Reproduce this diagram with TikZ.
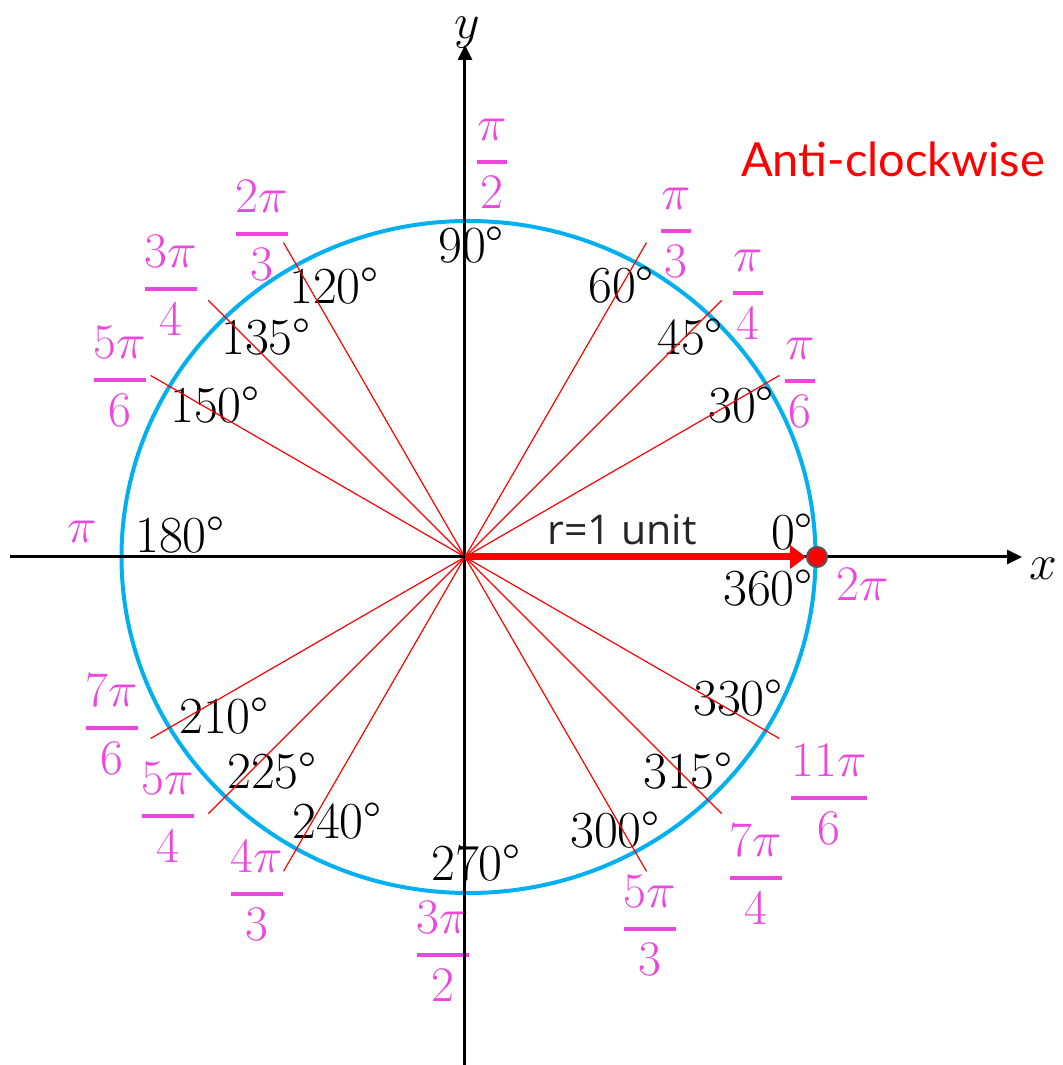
\documentclass[tikz,border=0pt]{standalone}
\usepackage{amsmath}
\usepackage{fontspec}
\usepackage{tikz}
\usetikzlibrary{arrows.meta}
\newfontfamily\unitfont{Open Sans}
\newfontfamily\dirfont{Lato}
\definecolor{CircleBlue}{RGB}{0,176,240}
\definecolor{RadMagenta}{RGB}{236,70,222}
\definecolor{DotBorder}{RGB}{80,85,95}
\newcommand{\rfrac}[2]{$\genfrac{}{}{2pt}{0}{#1}{#2}$}

\begin{document}
\begin{tikzpicture}[
  x=0.5pt, y=0.5pt,
  font=\fontsize{26}{31}\selectfont,
  axis/.style={line width=1.5pt, -{Triangle[length=7.5pt,width=7pt]}},
  ray/.style={red, line width=0.6pt},
  deg/.style={anchor=base, inner sep=0pt},
  rad/.style={anchor=base, inner sep=0pt, yshift=-6.5pt, text=RadMagenta},
  radius/.style={red, line width=3.5pt, -{Triangle[length=8pt,width=11.5pt]}}
]
\useasboundingbox (-465,-508) rectangle (598,557);

% unit circle (slightly squashed as in the drawing)
\draw[CircleBlue, line width=2pt] (3.5,0) ellipse [x radius=347, y radius=336];

% degree labels
\node[deg] (d0)   at (327,7)      {0°};
\node[deg] (d30)  at (276,134)    {30°};
\node[deg] (d45)  at (225,202)    {45°};
\node[deg] (d60)  at (156,254)    {60°};
\node[deg] (d90)  at (6,294)      {90°};
\node[deg] (d120) at (-131,253)   {120°};
\node[deg] (d135) at (-199,202)   {135°};
\node[deg] (d150) at (-250,134)   {150°};
\node[deg] (d180) at (-285,4)     {180°};
\node[deg] (d210) at (-241,-176)  {210°};
\node[deg] (d225) at (-193,-231)  {225°};
\node[deg] (d240) at (-128,-281)  {240°};
\node[deg] (d270) at (11,-323)    {270°};
\node[deg] (d300) at (150,-290)   {300°};
\node[deg] (d315) at (223,-231)   {315°};
\node[deg] (d330) at (273,-158)   {330°};
\node[deg] (d360) at (303,-48)    {360°};

% radian labels
\node[rad] (r30)  at (335,177)    {\rfrac{\pi}{6}};
\node[rad] (r45)  at (283,265)    {\rfrac{\pi}{4}};
\node[rad] (r60)  at (211,327)    {\rfrac{\pi}{3}};
\node[rad] (r90)  at (27,396)     {\rfrac{\pi}{2}};
\node[rad] (r120) at (-203,324)   {\rfrac{2\pi}{3}};
\node[rad] (r135) at (-294,269)   {\rfrac{3\pi}{4}};
\node[rad] (r150) at (-345,178)   {\rfrac{5\pi}{6}};
\node[deg, text=RadMagenta] (r180) at (-383,14) {$\pi$};
\node[rad] (r210) at (-353,-170)  {\rfrac{7\pi}{6}};
\node[rad] (r225) at (-297,-258)  {\rfrac{5\pi}{4}};
\node[rad] (r240) at (-208,-336)  {\rfrac{4\pi}{3}};
\node[rad] (r270) at (-22,-397)   {\rfrac{3\pi}{2}};
\node[rad] (r300) at (185,-371)   {\rfrac{5\pi}{3}};
\node[rad] (r315) at (291,-320)   {\rfrac{7\pi}{4}};
\node[rad] (r330) at (364,-240)   {\rfrac{11\pi}{6}};
\node[deg, text=RadMagenta] (r360) at (398,-43) {$2\pi$};

% angle rays through the origin
\draw[ray] (30:363) -- (210:363);
\draw[ray] (45:363) -- (225:363);
\draw[ray] (60:363) -- (240:363);
\draw[ray] (120:363) -- (300:363);
\draw[ray] (135:363) -- (315:363);
\draw[ray] (150:363) -- (330:363);

% axes
\draw[axis] (-455,0) -- (557,0);
\draw[axis] (0,-508) -- (0,512);
\node[deg] (xlab) at (578,-23) {$x$};
\node[deg] (ylab) at (2,518)   {$y$};

% radius vector
\coordinate (o) at (0,0);
\node[circle, fill=red, draw=DotBorder, line width=1pt, minimum size=10pt, inner sep=0pt] (dot) at (352,0) {};
\draw[radius] (o) -- (dot.west);
\node[deg, font=\unitfont\fontsize{20.5}{24}\selectfont, text=black!85] (unit) at (157,12) {r=1 unit};

\node[deg, font=\dirfont\fontsize{23.5}{28}\selectfont, text=red] (dir) at (428,380) {Anti-clockwise};

\end{tikzpicture}
\end{document}
